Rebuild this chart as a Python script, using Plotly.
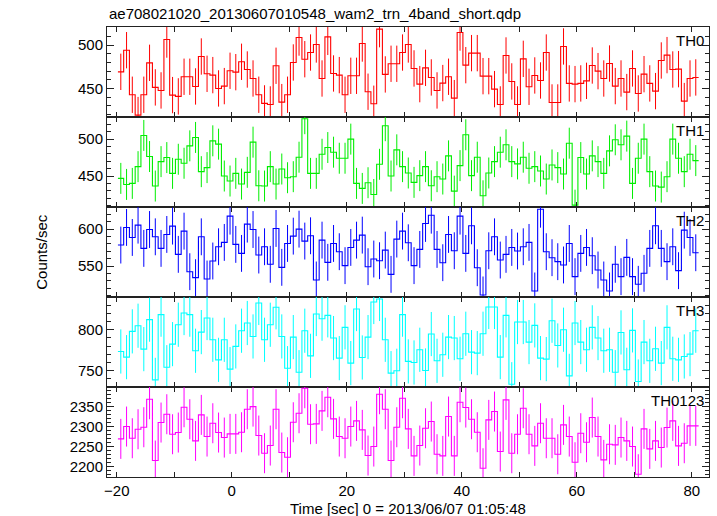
import numpy as np
import plotly.graph_objects as go
from plotly.subplots import make_subplots

# ---- data (counts/sec per 1-s bin) ----
time_start = -19.8
bin_width = 1.0

th0 = [469.2, 494.2, 442.7, 419.2, 442.7, 479.6, 451.2, 447.7, 506.5, 442.3,
       440.8, 463.5, 463.5, 452.3, 486.9, 466.9, 465.4, 450.0, 452.7, 470.4,
       468.8, 480.8, 471.9, 461.5, 442.7, 432.7, 431.5, 476.2, 434.2, 442.7,
       480.0, 508.8, 483.8, 491.5, 500.8, 461.5, 509.6, 467.3, 465.4, 442.7,
       464.6, 464.6, 501.9, 446.2, 432.3, 518.5, 466.2, 478.5, 478.5, 491.5,
       500.8, 473.1, 455.0, 473.8, 462.7, 447.7, 456.2, 463.5, 438.8, 514.6,
       476.9, 490.8, 490.8, 464.2, 464.2, 449.2, 431.5, 488.1, 458.1, 431.5,
       484.2, 451.9, 465.0, 459.2, 491.5, 433.8, 433.8, 498.5, 455.8, 455.0,
       455.8, 458.8, 476.5, 470.0, 461.5, 478.8, 452.7, 461.5, 445.8, 473.1,
       444.2, 466.5, 455.8, 446.9, 482.3, 488.5, 471.9, 472.3, 435.4, 461.5,
       462.7]
th1 = [446.8, 438.6, 440.0, 462.7, 505.0, 476.4, 436.4, 469.5, 475.0, 453.6,
       472.7, 467.3, 490.9, 502.3, 455.9, 461.4, 497.7, 493.2, 450.0, 443.2,
       453.6, 439.1, 455.0, 495.9, 436.8, 436.4, 462.7, 439.1, 459.5, 447.7,
       449.1, 475.5, 527.7, 453.6, 453.6, 479.5, 488.6, 482.3, 474.1, 474.1,
       500.0, 440.0, 433.2, 440.9, 425.0, 465.9, 518.2, 450.0, 485.5, 462.7,
       454.1, 441.4, 450.5, 462.7, 436.8, 449.1, 445.9, 477.3, 429.5, 464.1,
       505.9, 450.5, 475.5, 423.2, 454.1, 469.5, 482.3, 492.3, 469.5, 466.4,
       475.5, 460.5, 462.7, 456.8, 445.9, 465.0, 461.4, 452.7, 494.5, 410.5,
       475.0, 452.7, 477.3, 469.5, 453.6, 484.1, 499.1, 492.3, 504.1, 440.0,
       474.1, 500.0, 455.9, 436.4, 435.0, 449.1, 500.0, 474.1, 455.9, 479.5,
       470.9]
th2 = [578.4, 602.3, 588.7, 605.4, 573.9, 599.5, 589.6, 573.9, 592.8, 604.1,
       565.8, 597.3, 542.3, 534.2, 589.6, 532.4, 556.8, 576.1, 582.0, 617.6,
       579.3, 567.1, 606.8, 599.5, 564.9, 576.1, 552.3, 600.9, 548.2, 580.6,
       590.5, 600.0, 583.8, 591.0, 531.1, 585.1, 555.0, 580.6, 569.4, 550.5,
       575.2, 585.1, 591.9, 549.1, 559.5, 557.2, 571.6, 538.7, 586.5, 597.3,
       581.5, 550.5, 572.5, 607.7, 618.9, 572.5, 554.5, 592.8, 570.7, 617.6,
       567.1, 604.5, 547.7, 510.8, 570.7, 589.6, 558.1, 565.8, 575.2, 570.3,
       576.1, 582.0, 516.2, 627.0, 569.4, 561.3, 555.9, 551.4, 580.6, 535.6,
       567.1, 575.2, 564.0, 544.6, 531.1, 516.2, 552.3, 535.6, 561.7, 535.6,
       525.2, 540.1, 573.9, 604.5, 573.9, 555.9, 576.1, 543.7, 598.6, 588.7,
       568.0]
th3 = [773.4, 766.5, 798.0, 804.9, 776.3, 812.3, 738.7, 818.4, 754.2, 782.4,
       806.1, 820.4, 818.4, 774.3, 797.1, 814.3, 787.7, 763.2, 787.7, 751.8,
       779.6, 798.8, 808.2, 791.8, 832.7, 787.7, 806.1, 827.4, 791.8, 753.0,
       791.0, 748.1, 798.8, 768.1, 819.2, 813.5, 817.6, 789.8, 765.3, 802.9,
       759.2, 825.3, 766.1, 791.0, 833.9, 837.6, 787.7, 746.9, 749.8, 818.4,
       761.3, 760.0, 775.5, 750.2, 794.7, 762.0, 769.4, 791.0, 789.8, 764.5,
       795.1, 772.6, 771.4, 795.1, 827.8, 827.8, 766.5, 817.6, 733.4, 809.4,
       809.4, 784.9, 805.3, 765.3, 764.1, 811.0, 780.8, 800.0, 743.6, 808.2,
       784.9, 775.5, 802.9, 789.8, 774.3, 775.5, 748.1, 796.7, 751.0, 799.2,
       736.7, 784.9, 762.0, 776.7, 759.2, 802.9, 764.5, 763.2, 767.3, 770.2,
       798.8]
th0123 = [2269.3, 2300.1, 2270.9, 2293.4, 2298.4, 2368.4, 2215.1, 2310.1, 2330.9, 2280.9,
          2285.1, 2348.4, 2318.4, 2264.3, 2329.3, 2275.1, 2308.4, 2285.1, 2272.6, 2281.8,
          2281.8, 2285.9, 2343.4, 2350.0, 2277.6, 2233.4, 2252.6, 2343.4, 2235.1, 2223.4,
          2310.9, 2333.4, 2395.9, 2305.9, 2306.8, 2339.3, 2373.4, 2319.3, 2275.1, 2270.9,
          2300.1, 2314.3, 2291.8, 2227.6, 2250.1, 2380.9, 2343.4, 2215.1, 2298.4, 2370.9,
          2294.3, 2226.8, 2252.6, 2295.9, 2312.6, 2230.9, 2226.8, 2325.1, 2226.8, 2360.9,
          2347.6, 2318.4, 2285.9, 2195.9, 2316.8, 2337.6, 2237.6, 2366.8, 2233.4, 2280.9,
          2345.9, 2280.9, 2251.8, 2308.4, 2270.9, 2270.9, 2230.9, 2304.3, 2275.1, 2210.9,
          2283.4, 2260.9, 2322.6, 2275.1, 2216.8, 2255.9, 2254.3, 2272.6, 2264.3, 2250.1,
          2180.9, 2294.3, 2244.3, 2264.3, 2247.6, 2297.6, 2314.3, 2251.8, 2258.4, 2301.8,
          2301.8]

errors = [21.0, 21.0, 25.0, 27.0, 50.0]
series = [th0, th1, th2, th3, th0123]
names = ["TH0", "TH1", "TH2", "TH3", "TH0123"]
colors = ["#ff0000", "#00ee00", "#0000ff", "#00ffff", "#ff00ff"]
y_ranges = [[417, 521], [408, 530], [508, 630], [730, 840], [2174, 2399]]
y_major = [[450, 500], [450, 500], [550, 600], [750, 800], [2200, 2250, 2300, 2350]]

FONT = "Liberation Sans, Arial, sans-serif"
AXC = "#222222"

fig = make_subplots(rows=5, cols=1, shared_xaxes=True, vertical_spacing=0)

for i, (vals, err, col) in enumerate(zip(series, errors, colors)):
    row = i + 1
    v = np.array(vals)
    n = len(v)
    edges = time_start + bin_width * np.arange(n + 1)
    centers = edges[:-1] + bin_width / 2
    # error bars
    fig.add_trace(go.Scatter(
        x=centers, y=v, mode="markers",
        marker=dict(size=0.1, color=col, opacity=0),
        error_y=dict(type="data", array=[err] * n, visible=True,
                     color=col, thickness=1, width=0),
        hoverinfo="skip", showlegend=False, cliponaxis=True), row=row, col=1)
    # step histogram
    fig.add_trace(go.Scatter(
        x=edges, y=list(v) + [v[-1]], mode="lines",
        line=dict(color=col, width=1.1, shape="hv"),
        showlegend=False), row=row, col=1)
    fig.add_annotation(
        text=names[i], xref=f"x{'' if row == 1 else row} domain",
        yref=f"y{'' if row == 1 else row} domain",
        x=0.995, y=0.97, xanchor="right", yanchor="top", showarrow=False,
        font=dict(family=FONT, size=15, color="black"))
    fig.update_yaxes(
        range=y_ranges[i], tickvals=y_major[i], ticks="inside", ticklen=7,
        tickwidth=1, tickcolor=AXC, showline=True, linecolor=AXC,
        linewidth=1, mirror="ticks", showgrid=False, zeroline=False,
        automargin=False,
        minor=dict(ticks="inside", dtick=10, ticklen=4, tickcolor=AXC,
                   showgrid=False),
        tickfont=dict(family=FONT, size=15, color="black"),
        row=row, col=1)
    fig.update_xaxes(
        range=[-21.7, 83.0], dtick=20, tick0=0, ticks="inside", ticklen=5,
        tickwidth=1, tickcolor=AXC, showline=True, linecolor=AXC,
        linewidth=1, mirror="ticks", showgrid=False, zeroline=False,
        automargin=False,
        minor=dict(ticks="inside", dtick=10, ticklen=5, tickcolor=AXC,
                   showgrid=False),
        tickfont=dict(family=FONT, size=15, color="black"),
        row=row, col=1)

fig.add_annotation(text="Time [sec] 0 = 2013/06/07 01:05:48",
                   xref="paper", yref="paper", x=0.5, y=0, yshift=-31,
                   xanchor="center", yanchor="middle", showarrow=False,
                   font=dict(family=FONT, size=15, color="black"))
fig.add_annotation(text="Counts/sec", xref="paper", yref="paper",
                   x=-0.11, y=0.5, textangle=-90, showarrow=False,
                   xanchor="center", yanchor="middle",
                   font=dict(family=FONT, size=15, color="black"))
fig.add_annotation(text="ae708021020_20130607010548_wam2_trn_4band_short.qdp",
                   xref="paper", yref="paper", x=0, y=1.0, yshift=3,
                   xanchor="left", yanchor="bottom", showarrow=False,
                   font=dict(family=FONT, size=15, color="black"))

fig.update_layout(
    width=717, height=516,
    margin=dict(l=107, r=8, t=27, b=39),
    paper_bgcolor="white", plot_bgcolor="white",
    font=dict(family=FONT, size=15, color="black"),
    showlegend=False,
)

fig.write_html("out.html",
               config={"displayModeBar": False},
               post_script="document.body.style.margin='0';"
                           "document.body.style.overflow='hidden';")
